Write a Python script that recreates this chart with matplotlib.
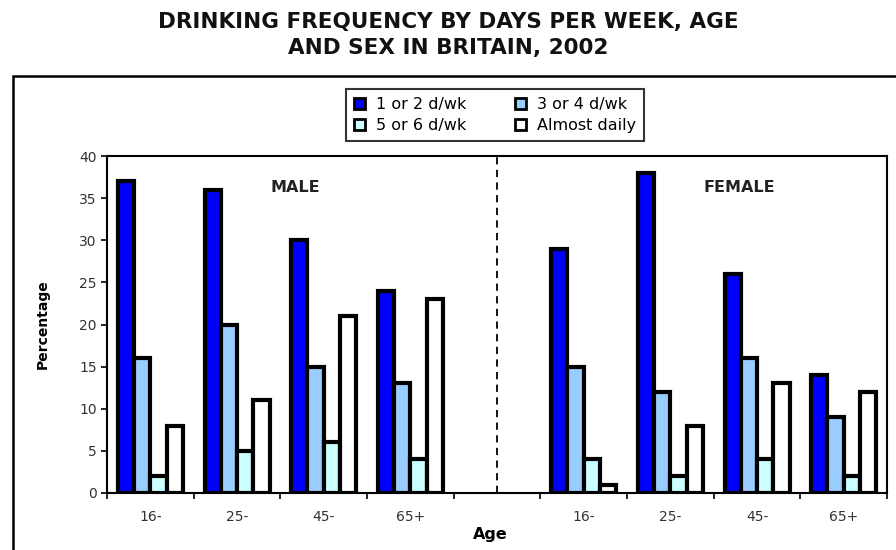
import matplotlib.pyplot as plt
import matplotlib.patches as patches
import numpy as np

# data
age_groups = ['16-', '25-', '45-', '65+']
series_names = ['1 or 2 d/wk', '3 or 4 d/wk', '5 or 6 d/wk', 'Almost daily']
male = [
    [37, 36, 30, 24],
    [16, 20, 15, 13],
    [2, 5, 6, 4],
    [8, 11, 21, 23],
]
female = [
    [29, 38, 26, 14],
    [15, 12, 16, 9],
    [4, 2, 4, 2],
    [1, 8, 13, 12],
]
colors = ['#0000ff', '#99ccff', '#ccffff', '#ffffff']

plt.rcParams['font.family'] = ['DejaVu Sans']

fig = plt.figure(figsize=(8.96, 5.5), dpi=100)
ax = fig.add_axes([107 / 896, 1 - 493 / 550, 780 / 896, 337 / 550])

# male in slots 0-3, empty slot 4, female in slots 5-8
male_x = np.arange(4)
female_x = np.arange(4) + 5
bar_w = 0.1875

handles = []
for i, name in enumerate(series_names):
    off = (i - 1.5) * bar_w
    b = ax.bar(male_x + off, male[i], width=bar_w, color=colors[i],
               edgecolor='black', linewidth=3, label=name, zorder=3)
    ax.bar(female_x + off, female[i], width=bar_w, color=colors[i],
           edgecolor='black', linewidth=3, zorder=3)
    handles.append(b)

ax.set_xlim(-0.5, 8.5)
ax.set_ylim(0, 40)
ax.set_yticks(np.arange(0, 41, 5))
ax.set_xticks(list(male_x) + list(female_x))
ax.set_xticklabels(age_groups + age_groups)
ax.set_xticks(np.arange(-0.5, 9, 1), minor=True)
ax.tick_params(axis='x', which='major', length=0, pad=12, labelsize=10,
               labelcolor='#333333')
ax.tick_params(axis='x', which='minor', length=4, width=1.2, direction='out')
ax.tick_params(axis='y', length=4, width=1.2, labelsize=10, labelcolor='#333333')

for side in ['top', 'right', 'bottom', 'left']:
    ax.spines[side].set_linewidth(1.5)

# divider between the sexes
ax.axvline(4, color='black', linestyle=(0, (4, 3)), linewidth=1.3, zorder=2)

ax.text(1.67, 36.3, 'MALE', fontsize=11.5, fontweight='bold', ha='center',
        va='center', color='#222222')
ax.text(6.80, 36.3, 'FEMALE', fontsize=11.5, fontweight='bold', ha='center',
        va='center', color='#222222')

ax.set_ylabel('Percentage', fontsize=10, fontweight='bold')
ax.yaxis.set_label_coords(-0.073, 0.5)
ax.set_xlabel('Age', fontsize=11.5, fontweight='bold')
ax.xaxis.set_label_coords(0.492, -0.1)

# legend fills row by row in the reference
order = [0, 2, 1, 3]
leg = fig.legend([handles[k] for k in order], [series_names[k] for k in order],
                 loc='center', bbox_to_anchor=(495 / 896, 1 - 115 / 550),
                 ncol=2, fontsize=11.5, frameon=True, fancybox=False,
                 handlelength=0.7, handleheight=0.7, handletextpad=0.7,
                 columnspacing=3.0, labelspacing=0.35, borderpad=0.5,
                 borderaxespad=0, edgecolor='black')
leg.get_frame().set_linewidth(1.5)
for h in leg.legend_handles:
    h.set_linewidth(2)

# outer chart frame, running off the bottom and right edges
frame = patches.Rectangle((13 / 896, -0.1), 1.2, 1 - 76 / 550 + 0.1,
                          transform=fig.transFigure, fill=False,
                          edgecolor='black', linewidth=1.8, clip_on=False)
fig.patches.append(frame)

fig.text(0.5, 1 - 22 / 550, 'DRINKING FREQUENCY BY DAYS PER WEEK, AGE',
         ha='center', va='center', fontsize=15.5, fontweight='bold',
         color='#111111')
fig.text(0.5, 1 - 48 / 550, 'AND SEX IN BRITAIN, 2002',
         ha='center', va='center', fontsize=15.5, fontweight='bold',
         color='#111111')

fig.savefig('out.png', dpi=100, facecolor='white')
